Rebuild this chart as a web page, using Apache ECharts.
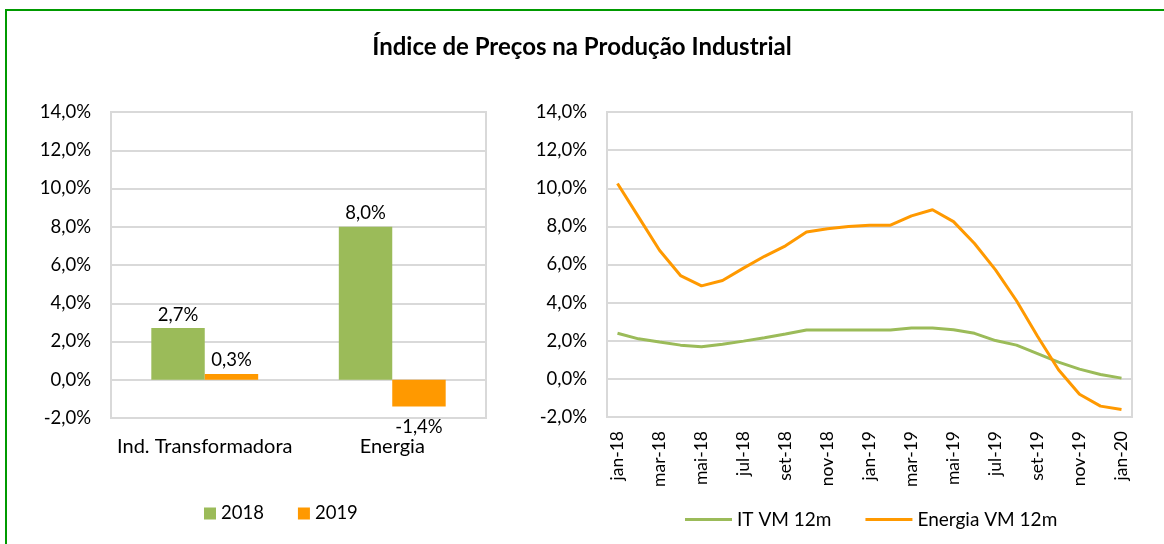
<!DOCTYPE html>
<html><head><meta charset="utf-8">
<script src="https://cdn.jsdelivr.net/npm/echarts@6/dist/echarts.min.js"></script>
<style>html,body{margin:0;padding:0;background:#fff}#c{width:1164px;height:544px}</style>
</head><body><div id="c"></div>
<script>
const barCategories = ['Ind. Transformadora', 'Energia'];
const bar2018 = [2.7, 8.0];
const bar2019 = [0.3, -1.4];
const months = ['jan-18','fev-18','mar-18','abr-18','mai-18','jun-18','jul-18','ago-18','set-18','out-18','nov-18','dez-18',
  'jan-19','fev-19','mar-19','abr-19','mai-19','jun-19','jul-19','ago-19','set-19','out-19','nov-19','dez-19','jan-20'];
const itVM12 = [2.39, 2.10, 1.93, 1.77, 1.68, 1.82, 1.98, 2.16, 2.35, 2.56, 2.56, 2.56,
  2.56, 2.56, 2.67, 2.67, 2.58, 2.39, 2.01, 1.77, 1.33, 0.88, 0.51, 0.23, 0.04];
const energiaVM12 = [10.25, 8.5, 6.75, 5.42, 4.88, 5.16, 5.81, 6.43, 6.98, 7.70, 7.88, 7.99,
  8.06, 8.06, 8.55, 8.87, 8.25, 7.10, 5.72, 4.10, 2.24, 0.48, -0.81, -1.43, -1.61];

const GREEN = '#9BBB59', ORANGE = '#FF9900', GRID = '#D9D9D9';
const FONT = 'Lato';
const pct = v => Number(v).toFixed(1).replace('.', ',') + '%';

const chart = echarts.init(document.getElementById('c'));
const yAxisCommon = {
  type: 'value', min: -2, max: 14, interval: 2,
  axisLine: {show: false}, axisTick: {show: false},
  splitLine: {lineStyle: {color: GRID, width: 2}},
  axisLabel: {formatter: pct, color: '#000', fontSize: 18.5, fontFamily: FONT, margin: 20}
};
chart.setOption({
  animation: false,
  textStyle: {fontFamily: FONT},
  title: {text: 'Índice de Preços na Produção Industrial', left: 'center', top: 30,
    textStyle: {fontSize: 24, fontWeight: 'bold', color: '#000', fontFamily: FONT}},
  graphic: [{type: 'rect', shape: {x: 6, y: 10, width: 1200, height: 600},
    style: {fill: 'none', stroke: '#009A00', lineWidth: 2}, silent: true}],
  grid: [
    {left: 111, top: 112, width: 375, height: 306, show: true, borderColor: GRID, borderWidth: 2},
    {left: 607, top: 112, width: 525, height: 305, show: true, borderColor: GRID, borderWidth: 2}
  ],
  legend: [
    {data: ['2018', '2019'], left: 199, top: 499, icon: 'rect', itemWidth: 12, itemHeight: 12, itemGap: 34,
      textStyle: {fontSize: 18.5, color: '#000', fontFamily: FONT}},
    {data: ['IT VM 12m', 'Energia VM 12m'], left: 680, top: 505, icon: 'rect', itemWidth: 47, itemHeight: 3, itemGap: 34,
      textStyle: {fontSize: 19, color: '#000', fontFamily: FONT}}
  ],
  xAxis: [
    {type: 'category', gridIndex: 0, data: barCategories, axisLine: {show: false}, axisTick: {show: false},
      axisLabel: {color: '#000', fontSize: 20, fontFamily: FONT, margin: 19, interval: 0}},
    {type: 'category', gridIndex: 1, data: months, boundaryGap: true, axisLine: {show: false}, axisTick: {show: false},
      axisLabel: {color: '#000', fontSize: 17.5, fontFamily: FONT, rotate: 90, interval: 1, margin: 14}}
  ],
  yAxis: [
    Object.assign({gridIndex: 0}, yAxisCommon),
    Object.assign({gridIndex: 1}, yAxisCommon)
  ],
  series: [
    {name: '2018', type: 'bar', xAxisIndex: 0, yAxisIndex: 0, data: bar2018, color: GREEN,
      barGap: '0%', barCategoryGap: '43%',
      label: {show: true, position: 'top', formatter: p => pct(p.value), color: '#000', fontSize: 18.5, fontFamily: FONT, distance: 4}},
    {name: '2019', type: 'bar', xAxisIndex: 0, yAxisIndex: 0, color: ORANGE,
      data: bar2019.map(v => ({value: v, label: v < 0 ? {position: 'bottom', distance: 11} : {position: 'top', distance: 4}})),
      label: {show: true, formatter: p => pct(p.value), color: '#000', fontSize: 18.5, fontFamily: FONT}},
    {name: 'IT VM 12m', type: 'line', xAxisIndex: 1, yAxisIndex: 1, data: itVM12, color: GREEN,
      symbol: 'none', lineStyle: {width: 3, color: GREEN}},
    {name: 'Energia VM 12m', type: 'line', xAxisIndex: 1, yAxisIndex: 1, data: energiaVM12, color: ORANGE,
      symbol: 'none', lineStyle: {width: 3, color: ORANGE}}
  ]
});
</script></body></html>
